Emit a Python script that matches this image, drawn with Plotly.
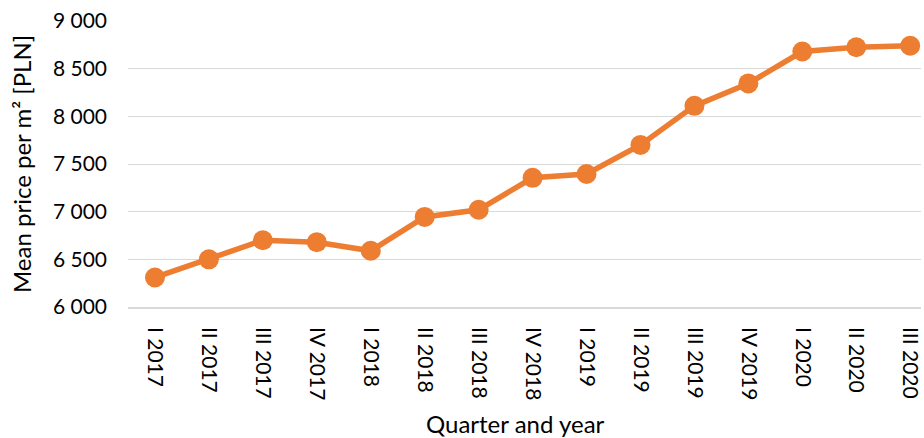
import plotly.graph_objects as go

quarters = ["I 2017", "II 2017", "III 2017", "IV 2017", "I 2018", "II 2018", "III 2018",
            "IV 2018", "I 2019", "II 2019", "III 2019", "IV 2019", "I 2020", "II 2020", "III 2020"]
mean_price = [6310, 6500, 6700, 6680, 6590, 6945, 7020, 7355, 7395, 7700, 8110, 8345, 8680, 8725, 8740]

y_ticks = [6000, 6500, 7000, 7500, 8000, 8500, 9000]

color = "#ED7D31"
font_family = "Lato, 'Open Sans', sans-serif"

fig = go.Figure()
fig.add_trace(go.Scatter(
    x=list(range(len(quarters))), y=mean_price,
    mode="lines+markers",
    line=dict(color=color, width=5.5),
    marker=dict(color=color, size=20),
    cliponaxis=False,
    showlegend=False,
))

fig.update_layout(
    width=924, height=438,
    margin=dict(l=128, r=0, t=21, b=131),
    paper_bgcolor="white", plot_bgcolor="white",
    font=dict(family=font_family, size=21, color="#000000"),
    separators=", ",
    xaxis=dict(
        range=[-0.5, 14.2],
        tickmode="array",
        tickvals=list(range(len(quarters))),
        ticktext=quarters,
        tickangle=90,
        showgrid=False,
        showline=True, linecolor="#d9d9d9", linewidth=1.5,
        ticks="", ticklabelstandoff=14,
        ticklabeloverflow="allow",
        tickfont=dict(size=21),
        zeroline=False,
    ),
    yaxis=dict(
        range=[6000, 9000],
        tickmode="array",
        tickvals=y_ticks,
        tickformat=",d",
        showgrid=True, gridcolor="#d9d9d9", gridwidth=1,
        ticks="", ticklabelstandoff=20,
        tickfont=dict(size=21),
        title=dict(text="Mean price per m² [PLN]", font=dict(size=24), standoff=14),
        zeroline=False,
    ),
    annotations=[dict(
        text="Quarter and year", xref="paper", yref="paper",
        x=0.4887, y=0, xanchor="center", yanchor="middle",
        yshift=-116, showarrow=False, font=dict(size=24),
    )],
)

fig.write_html("out.html", config={"displayModeBar": False},
               post_script="document.body.style.margin='0';document.body.style.overflow='hidden';")
